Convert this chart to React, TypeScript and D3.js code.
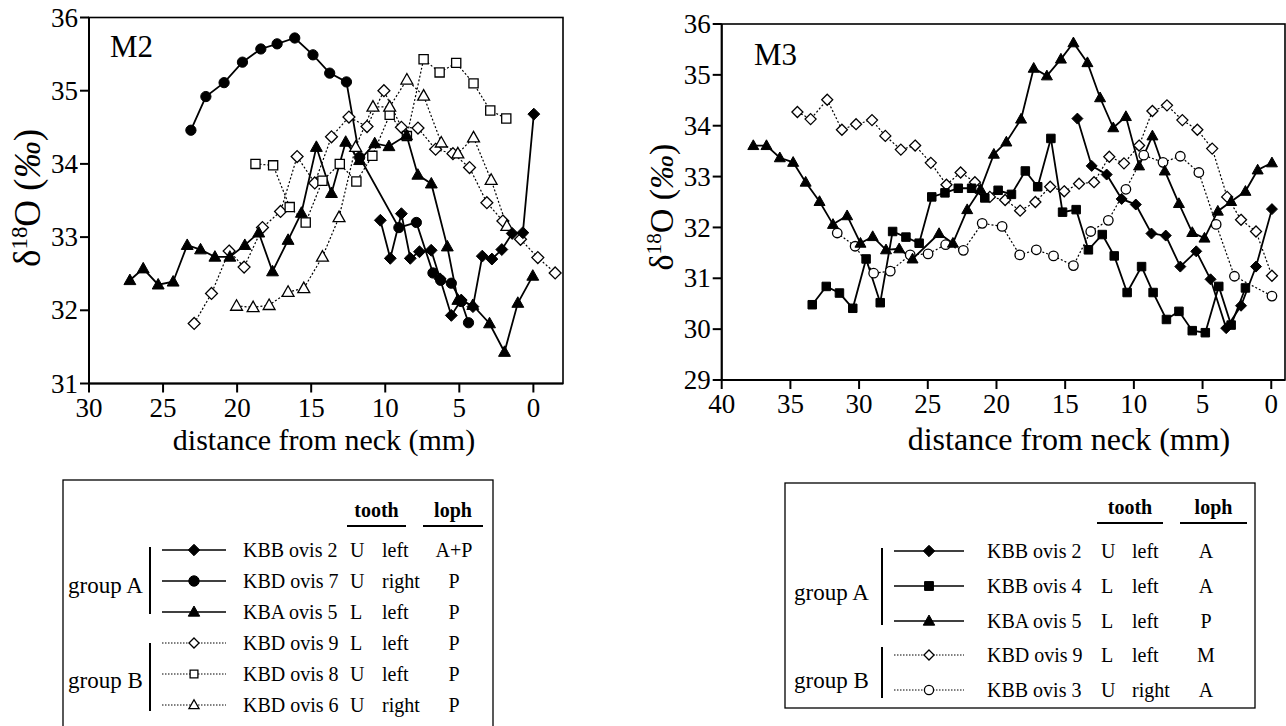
import React from "react";
import * as d3 from "d3";

type Pt = [number, number]; // [distance from neck (mm), d18O (permil)]

// ---------- M2 data ----------
const m2Kbb2: Pt[] = [
  [10.33, 33.23], [9.66, 32.71], [8.91, 33.32], [8.31, 32.71], [7.69, 32.8], [6.9, 32.82],
  [6.3, 32.43], [5.54, 31.93], [4.87, 32.14], [4.08, 32.05], [3.45, 32.74], [2.8, 32.7],
  [2.13, 32.83], [1.43, 33.05], [0.71, 33.06], [-0.03, 34.68],
];
const m2Kbd7: Pt[] = [
  [23.12, 34.46], [22.11, 34.92], [20.88, 35.11], [19.64, 35.39], [18.4, 35.57], [17.3, 35.64],
  [16.11, 35.72], [14.88, 35.49], [13.75, 35.24], [12.62, 35.12], [11.73, 34.09], [9.08, 33.13],
  [7.9, 33.2], [6.78, 32.51], [6.26, 32.41], [5.54, 32.37], [4.87, 32.12], [4.38, 31.83],
];
const m2Kba5: Pt[] = [
  [27.24, 32.41], [26.34, 32.57], [25.33, 32.35], [24.32, 32.39], [23.37, 32.89], [22.47, 32.83],
  [21.5, 32.73], [20.49, 32.73], [19.48, 32.89], [18.54, 33.06], [17.61, 32.53], [16.56, 32.96],
  [15.66, 33.33], [14.65, 34.23], [13.63, 33.6], [12.67, 34.3], [11.73, 34.05], [10.71, 34.28],
  [9.75, 34.24], [8.56, 34.39], [7.8, 33.85], [6.89, 33.73], [5.81, 32.87], [5.1, 32.14],
  [4.09, 32.07], [2.96, 31.82], [1.95, 31.43], [1.05, 32.1], [0.04, 32.47],
];
const m2Kbd9: Pt[] = [
  [22.9, 31.82], [21.73, 32.23], [20.54, 32.81], [19.53, 32.59], [18.29, 33.13], [17.07, 33.35],
  [15.95, 34.1], [14.76, 33.74], [13.63, 34.37], [12.45, 34.64], [11.23, 34.51], [10.09, 35.0],
  [8.91, 34.5], [7.79, 34.49], [6.6, 34.2], [5.43, 34.14], [4.31, 33.95], [3.14, 33.47],
  [2.06, 33.22], [0.87, 32.97], [-0.3, 32.72], [-1.47, 32.51],
];
const m2Kbd8: Pt[] = [
  [18.76, 34.0], [17.57, 33.98], [16.45, 33.41], [15.37, 33.2], [14.24, 33.77], [13.07, 34.0],
  [11.95, 33.76], [10.87, 34.11], [9.7, 34.67], [8.54, 34.38], [7.41, 35.43], [6.33, 35.25],
  [5.21, 35.38], [4.04, 35.1], [2.91, 34.73], [1.83, 34.62],
];
const m2Kbd6: Pt[] = [
  [20.04, 32.06], [18.92, 32.04], [17.84, 32.07], [16.56, 32.25], [15.5, 32.3], [14.24, 32.73],
  [13.12, 33.27], [12.0, 34.23], [10.83, 34.78], [9.7, 34.78], [8.54, 35.15], [7.41, 34.93],
  [6.22, 34.29], [5.1, 34.14], [4.04, 34.36], [2.85, 33.78], [1.79, 33.15],
];

// ---------- M3 data ----------
const m3Kbb2: Pt[] = [
  [14.11, 34.14], [13.07, 33.21], [11.98, 33.04], [10.89, 32.56], [9.86, 32.45], [8.72, 31.88],
  [7.68, 31.84], [6.62, 31.23], [5.46, 31.53], [4.42, 30.98], [3.28, 30.02], [2.2, 30.46],
  [1.11, 31.23], [-0.05, 32.36],
];
const m3Kbb4: Pt[] = [
  [33.41, 30.48], [32.39, 30.84], [31.43, 30.71], [30.46, 30.41], [29.49, 31.38], [28.46, 30.52],
  [27.56, 31.92], [26.59, 31.81], [25.63, 31.69], [24.71, 32.6], [23.75, 32.68], [22.78, 32.77],
  [21.81, 32.77], [20.85, 32.58], [19.88, 32.73], [18.91, 32.65], [17.9, 33.11], [17.0, 32.8],
  [16.04, 33.75], [15.19, 32.3], [14.2, 32.35], [13.31, 31.56], [12.3, 31.86], [11.43, 31.44],
  [10.49, 30.72], [9.44, 31.23], [8.6, 30.72], [7.63, 30.19], [6.72, 30.35], [5.75, 29.97],
  [4.8, 29.93], [3.82, 30.84], [2.92, 30.08], [1.88, 30.81],
];
const m3Kba5: Pt[] = [
  [37.7, 33.61], [36.74, 33.61], [35.77, 33.37], [34.8, 33.28], [33.89, 32.89], [32.88, 32.51],
  [31.9, 32.06], [30.87, 32.23], [29.9, 31.69], [29.01, 31.82], [28.04, 31.56], [27.08, 31.58],
  [26.11, 31.38], [24.18, 31.88], [23.17, 31.69], [22.13, 32.35], [21.16, 32.75], [20.19, 33.44],
  [19.28, 33.68], [18.21, 34.13], [17.29, 35.13], [16.33, 34.98], [15.31, 35.31], [14.4, 35.63],
  [13.38, 35.24], [12.46, 34.55], [11.5, 33.96], [10.58, 34.18], [9.62, 33.21], [8.65, 33.8],
  [7.75, 33.11], [6.72, 32.47], [5.75, 31.9], [4.86, 31.79], [3.89, 32.32], [2.92, 32.51],
  [1.88, 32.71], [0.99, 33.13], [-0.05, 33.27],
];
const m3Kbd9: Pt[] = [
  [34.49, 34.27], [33.53, 34.13], [32.32, 34.51], [31.25, 33.92], [30.22, 34.03], [29.06, 34.11],
  [28.09, 33.8], [26.96, 33.53], [25.92, 33.61], [24.78, 33.27], [23.64, 32.84], [22.61, 33.08],
  [21.57, 32.89], [20.48, 32.6], [19.37, 32.54], [18.28, 32.33], [17.17, 32.5], [16.09, 32.8],
  [15.07, 32.71], [13.99, 32.86], [12.9, 32.89], [11.79, 33.39], [10.72, 33.26], [9.62, 33.61],
  [8.65, 34.29], [7.59, 34.4], [6.47, 34.11], [5.38, 33.92], [4.3, 33.55], [3.21, 32.6],
  [2.2, 32.15], [1.11, 31.92], [-0.05, 31.05],
];
const m3Kbb3: Pt[] = [
  [31.59, 31.89], [30.29, 31.63], [28.94, 31.1], [27.73, 31.14], [26.28, 31.46], [24.98, 31.48],
  [23.7, 31.66], [22.41, 31.55], [21.04, 32.08], [19.59, 32.02], [18.31, 31.46], [17.1, 31.56],
  [15.85, 31.44], [14.4, 31.25], [13.14, 31.92], [11.86, 32.14], [10.58, 32.75], [9.28, 33.42],
  [7.88, 33.28], [6.62, 33.4], [5.27, 33.08], [4.01, 32.06], [2.68, 31.04], [-0.05, 30.65],
];

// ---------- legend text ----------
const m2Names = ["KBB ovis 2", "KBD ovis 7", "KBA ovis 5", "KBD ovis 9", "KBD ovis 8", "KBD ovis 6"];
const m2Jaw = ["U", "U", "L", "L", "U", "U"];
const m2Side = ["left", "right", "left", "left", "left", "right"];
const m2Loph = ["A+P", "P", "P", "P", "P", "P"];

const m3Names = ["KBB ovis 2", "KBB ovis 4", "KBA ovis 5", "KBD ovis 9", "KBB ovis 3"];
const m3Jaw = ["U", "L", "L", "L", "U"];
const m3Side = ["left", "left", "left", "left", "right"];
const m3Loph = ["A", "A", "P", "M", "A"];

const m2Ticks = { x: [30, 25, 20, 15, 10, 5, 0], y: [31, 32, 33, 34, 35, 36] };
const m3Ticks = { x: [40, 35, 30, 25, 20, 15, 10, 5, 0], y: [29, 30, 31, 32, 33, 34, 35, 36] };

type Shape = "diamond" | "circle" | "triangle" | "square";
type Series = { data: Pt[]; shape: Shape; filled: boolean; dotted: boolean };

const m2Series: Series[] = [
  { data: m2Kbd9, shape: "diamond", filled: false, dotted: true },
  { data: m2Kbd8, shape: "square", filled: false, dotted: true },
  { data: m2Kbd6, shape: "triangle", filled: false, dotted: true },
  { data: m2Kbd7, shape: "circle", filled: true, dotted: false },
  { data: m2Kba5, shape: "triangle", filled: true, dotted: false },
  { data: m2Kbb2, shape: "diamond", filled: true, dotted: false },
];
const m2Legend: Series[] = [m2Series[5], m2Series[3], m2Series[4], m2Series[0], m2Series[1], m2Series[2]];

const m3Series: Series[] = [
  { data: m3Kbd9, shape: "diamond", filled: false, dotted: true },
  { data: m3Kbb3, shape: "circle", filled: false, dotted: true },
  { data: m3Kbb4, shape: "square", filled: true, dotted: false },
  { data: m3Kba5, shape: "triangle", filled: true, dotted: false },
  { data: m3Kbb2, shape: "diamond", filled: true, dotted: false },
];
const m3Legend: Series[] = [m3Series[4], m3Series[2], m3Series[3], m3Series[0], m3Series[1]];

const FONT = "'Liberation Serif', 'Times New Roman', serif";

function Marker({ shape, filled, x, y, s }: { shape: Shape; filled: boolean; x: number; y: number; s: number }) {
  const fill = filled ? "#000" : "#fff";
  const sw = filled ? 1 : 1.3;
  if (shape === "circle") return <circle cx={x} cy={y} r={s} fill={fill} stroke="#000" strokeWidth={sw} />;
  let d = "";
  if (shape === "diamond") d = `M0,${-s * 1.1}L${s * 1.1},0L0,${s * 1.1}L${-s * 1.1},0Z`;
  else if (shape === "square") d = `M${-s * 0.85},${-s * 0.85}h${s * 1.7}v${s * 1.7}h${-s * 1.7}Z`;
  else d = `M0,${-s * 1.15}L${s * 1.1},${s * 0.8}L${-s * 1.1},${s * 0.8}Z`;
  return <path transform={`translate(${x},${y})`} d={d} fill={fill} stroke="#000" strokeWidth={sw} strokeLinejoin="miter" />;
}

type PanelProps = {
  label: string;
  series: Series[];
  xDomain: [number, number];
  yDomain: [number, number];
  left: number;
  right: number;
  top: number;
  bottom: number;
  ticks: { x: number[]; y: number[] };
  markerSize: number;
  xTitleX: number;
  xTitleSize: number;
  yTitleX: number;
  yTitleY: number;
  yTitleSize: number;
  labelPos: [number, number];
};

function Panel(p: PanelProps) {
  const x = d3.scaleLinear().domain(p.xDomain).range([p.left, p.right]);
  const y = d3.scaleLinear().domain(p.yDomain).range([p.bottom, p.top]);
  const line = d3.line<Pt>().x((d) => x(d[0])).y((d) => y(d[1]));
  const ys = p.yTitleSize;
  return (
    <g fontFamily={FONT}>
      <rect x={p.left} y={p.top} width={p.right - p.left} height={p.bottom - p.top} fill="none" stroke="#000" strokeWidth={1.6} />
      <line x1={p.left} x2={p.left} y1={p.top} y2={p.bottom} stroke="#000" strokeWidth={2} />
      <line x1={p.left} x2={p.right} y1={p.bottom} y2={p.bottom} stroke="#000" strokeWidth={2} />
      {p.ticks.y.map((t) => (
        <g key={"y" + t}>
          <line x1={p.left - 9} x2={p.left} y1={y(t)} y2={y(t)} stroke="#000" strokeWidth={2} />
          <text x={p.left - 11} y={y(t)} dy="0.34em" textAnchor="end" fontSize={27}>{t}</text>
        </g>
      ))}
      {p.ticks.x.map((t) => (
        <g key={"x" + t}>
          <line x1={x(t)} x2={x(t)} y1={p.bottom} y2={p.bottom + 9} stroke="#000" strokeWidth={2} />
          <text x={x(t)} y={p.bottom + 33} textAnchor="middle" fontSize={27}>{t}</text>
        </g>
      ))}
      <text x={p.xTitleX} y={450} textAnchor="middle" fontSize={p.xTitleSize}>distance from neck (mm)</text>
      <text transform={`translate(${p.yTitleX},${p.yTitleY}) rotate(-90)`} textAnchor="middle" fontSize={ys}>
        δ<tspan fontSize={ys * 0.62} dy={-ys * 0.36}>18</tspan><tspan dy={ys * 0.36}>O (</tspan><tspan fontStyle="italic">‰</tspan>)
      </text>
      <text x={p.labelPos[0]} y={p.labelPos[1]} fontSize={31}>{p.label}</text>
      {p.series.map((s, i) => (
        <path key={"l" + i} d={line(s.data) || ""} fill="none" stroke="#000"
          strokeWidth={s.dotted ? 1.2 : 1.8} strokeDasharray={s.dotted ? "2 2" : undefined} />
      ))}
      {p.series.map((s, i) => (
        <g key={"m" + i}>
          {s.data.map((d, j) => (
            <Marker key={j} shape={s.shape} filled={s.filled} x={x(d[0])} y={y(d[1])}
              s={s.shape === "circle" ? p.markerSize * 0.95 : p.markerSize} />
          ))}
        </g>
      ))}
    </g>
  );
}

type LegendProps = {
  box: [number, number, number, number];
  series: Series[];
  names: string[];
  jaw: string[];
  side: string[];
  loph: string[];
  rowY: number[];
  lineX: [number, number];
  nameX: number;
  jawX: number;
  sideX: number;
  lophX: number;
  toothCol: [number, number];
  lophCol: [number, number];
  headY: number;
  groups: { label: string; barX: number; y1: number; y2: number; textY: number; textX: number }[];
};

function Legend(l: LegendProps) {
  const [bx, by, bw, bh] = l.box;
  const mx = (l.lineX[0] + l.lineX[1]) / 2;
  return (
    <g fontFamily={FONT} fontSize={20}>
      <rect x={bx} y={by} width={bw} height={bh} fill="none" stroke="#000" strokeWidth={1.3} />
      <text x={(l.toothCol[0] + l.toothCol[1]) / 2} y={l.headY} textAnchor="middle" fontWeight="bold">tooth</text>
      <text x={(l.lophCol[0] + l.lophCol[1]) / 2} y={l.headY} textAnchor="middle" fontWeight="bold">loph</text>
      <line x1={l.toothCol[0]} x2={l.toothCol[1]} y1={l.headY + 9} y2={l.headY + 9} stroke="#000" strokeWidth={1.8} />
      <line x1={l.lophCol[0]} x2={l.lophCol[1]} y1={l.headY + 9} y2={l.headY + 9} stroke="#000" strokeWidth={1.8} />
      {l.groups.map((g) => (
        <g key={g.label}>
          <line x1={g.barX} x2={g.barX} y1={g.y1} y2={g.y2} stroke="#000" strokeWidth={2} />
          <text x={g.textX} y={g.textY} dy="0.34em" fontSize={23}>{g.label}</text>
        </g>
      ))}
      {l.series.map((s, i) => (
        <g key={i}>
          <line x1={l.lineX[0]} x2={l.lineX[1]} y1={l.rowY[i]} y2={l.rowY[i]} stroke="#000"
            strokeWidth={s.dotted ? 1 : 1.5} strokeDasharray={s.dotted ? "1.5 1.5" : undefined} />
          <Marker shape={s.shape} filled={s.filled} x={mx} y={l.rowY[i]} s={s.filled ? 5.2 : 4.6} />
          <text x={l.nameX} y={l.rowY[i]} dy="0.34em">{l.names[i]}</text>
          <text x={l.jawX} y={l.rowY[i]} dy="0.34em">{l.jaw[i]}</text>
          <text x={l.sideX} y={l.rowY[i]} dy="0.34em">{l.side[i]}</text>
          <text x={l.lophX} y={l.rowY[i]} dy="0.34em" textAnchor="middle">{l.loph[i]}</text>
        </g>
      ))}
    </g>
  );
}

export default function App() {
  return (
    <div style={{ position: "absolute", left: 0, top: 0 }}>
      <svg width={1286} height={726} style={{ display: "block", background: "#fff" }}>
        <Panel label="M2" series={m2Series} xDomain={[30, -2]} yDomain={[31, 36]}
          left={89} right={563} top={17.5} bottom={383.5} ticks={m2Ticks} markerSize={5.4}
          xTitleX={324} xTitleSize={30} yTitleX={40} yTitleY={198} yTitleSize={37} labelPos={[110, 57]} />
        <Panel label="M3" series={m3Series} xDomain={[40, -1]} yDomain={[29, 36]}
          left={721.7} right={1285} top={24} bottom={380} ticks={m3Ticks} markerSize={5}
          xTitleX={1069} xTitleSize={32} yTitleX={673} yTitleY={207} yTitleSize={34} labelPos={[754, 65]} />
        <Legend box={[63, 480, 430, 260]} series={m2Legend} names={m2Names} jaw={m2Jaw} side={m2Side} loph={m2Loph}
          rowY={[550, 581, 612, 643, 674, 705]} lineX={[162, 226]} nameX={243} jawX={350} sideX={382} lophX={454}
          toothCol={[347, 406]} lophCol={[423, 483]} headY={517}
          groups={[
            { label: "group A", barX: 150, y1: 547, y2: 614, textY: 585, textX: 68 },
            { label: "group B", barX: 150, y1: 643, y2: 711, textY: 680, textX: 68 },
          ]} />
        <Legend box={[785, 483, 470, 225]} series={m3Legend} names={m3Names} jaw={m3Jaw} side={m3Side} loph={m3Loph}
          rowY={[551, 586, 621, 655, 690]} lineX={[894, 964]} nameX={987} jawX={1101} sideX={1132} lophX={1206}
          toothCol={[1097, 1163]} lophCol={[1180, 1247]} headY={514}
          groups={[
            { label: "group A", barX: 882, y1: 548, y2: 625, textY: 592, textX: 794 },
            { label: "group B", barX: 882, y1: 647, y2: 698, textY: 680, textX: 794 },
          ]} />
      </svg>
    </div>
  );
}
